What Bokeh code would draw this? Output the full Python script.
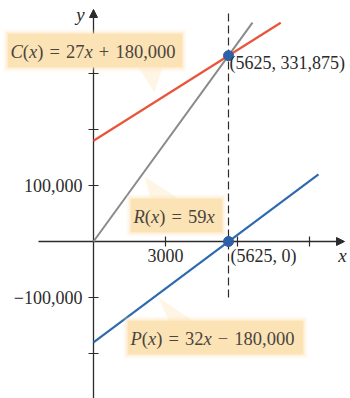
from bokeh.plotting import figure
from bokeh.models import Range1d, Arrow, NormalHead
from bokeh.core.properties import value
from bokeh.embed import file_html
from bokeh.resources import INLINE

# ---- data -------------------------------------------------------------
# C(x) = 27x + 180,000   R(x) = 59x   P(x) = 32x - 180,000
cost_x = [0, 7800]
cost_y = [180000, 390600]
revenue_x = [0, 6625]
revenue_y = [0, 390875]
profit_x = [0, 9375]
profit_y = [-180000, 120000]

# break-even points
break_even_x = [5625, 5625]
break_even_y = [331875, 0]
break_even_labels = ["(5625, 331,875)", "(5625, 0)"]

x_ticks = [3000, 6000, 9000]
x_tick_labels = ["3000", "", ""]
y_ticks = [-200000, -100000, 100000, 200000, 300000]
y_tick_labels = ["", "\u2212100,000", "100,000", "", ""]

# ---- layout helpers ---------------------------------------------------
W, H = 350, 398
OX, OY = 93, 241          # screen position of the origin
SX, SY = 0.024, 0.00056   # pixels per data unit


def X(px):
    return (px - OX) / SX


def Y(py):
    return (OY - py) / SY


INK = "#2b2b2b"
BOX_INK = "#4a4540"
BOX_FILL = "#fce3b5"
SERIF = value("Liberation Serif")

p = figure(width=W, height=H,
           x_range=Range1d(X(0), X(W)), y_range=Range1d(Y(H), Y(0)),
           output_backend="svg", toolbar_location=None,
           x_axis_location=None, y_axis_location=None,
           min_border=0, outline_line_color=None,
           background_fill_color="white", border_fill_color="white")
p.grid.visible = False


def put_text(x, y, text, size=18, style="normal", align="left",
             color=INK, x_offset=0, y_offset=0):
    p.text(x=[x], y=[y], text=[text], text_font=SERIF,
           text_font_size=f"{size}px", text_font_style=style,
           text_align=align, text_baseline="middle", text_color=color,
           x_offset=x_offset, y_offset=y_offset)


# ---- axes (kept beneath the glyphs) -----------------------------------
p.add_layout(Arrow(end=NormalHead(size=8, fill_color=INK, line_color=INK, line_width=1),
                   x_start=X(38), y_start=0, x_end=X(344), y_end=0,
                   line_color=INK, line_width=1.3, level="underlay"))
p.add_layout(Arrow(end=NormalHead(size=8, fill_color=INK, line_color=INK, line_width=1),
                   x_start=0, y_start=Y(H), x_end=0, y_end=Y(9),
                   line_color=INK, line_width=1.3, level="underlay"))

tick_half = 5
p.segment(x0=x_ticks, x1=x_ticks,
          y0=[-tick_half / SY] * len(x_ticks), y1=[tick_half / SY] * len(x_ticks),
          line_color=INK, line_width=1.2)
p.segment(x0=[-tick_half / SX] * len(y_ticks), x1=[tick_half / SX] * len(y_ticks),
          y0=y_ticks, y1=y_ticks, line_color=INK, line_width=1.2)

for t, lab in zip(x_ticks, x_tick_labels):
    if lab:
        put_text(t, 0, lab, align="center", y_offset=14)
for t, lab in zip(y_ticks, y_tick_labels):
    if lab:
        put_text(X(82), t, lab, align="right")

put_text(X(342), 0, "x", size=19, style="italic", align="center", y_offset=14)
put_text(X(80), Y(14), "y", size=19, style="italic", align="center")

# ---- functions --------------------------------------------------------
p.line(revenue_x, revenue_y, line_color="#8a8a8a", line_width=2)
p.line(cost_x, cost_y, line_color="#e8553a", line_width=2.2)
p.line(profit_x, profit_y, line_color="#2f6aae", line_width=2.2)

p.segment(x0=[break_even_x[0]], x1=[break_even_x[0]], y0=[Y(297)], y1=[Y(9)],
          line_color=INK, line_width=1.2, line_dash="8 4")

p.scatter(break_even_x, break_even_y, size=10, color="#2d60a6")
put_text(break_even_x[0], break_even_y[0], break_even_labels[0], x_offset=1, y_offset=7)
put_text(break_even_x[1], break_even_y[1], break_even_labels[1], x_offset=2, y_offset=14)

# ---- equation callouts ------------------------------------------------
EM = {"0": .5, "1": .5, "2": .5, "3": .5, "4": .5, "5": .5, "6": .5, "7": .5,
      "8": .5, "9": .5, ",": .25, "(": .333, ")": .333, "=": .564, "+": .564,
      "\u2212": .564, "C": .667, "R": .611, "P": .611, "x": .444, " ": .25}
GAP = 0.33


def callout(box, tip, base, pieces, size=18.5):
    px0, px1, py0, py1 = box
    # soft halo then solid box
    for pad, alpha in ((4, 0.15), (2, 0.35), (0, 1.0)):
        p.quad(left=[X(px0 - pad)], right=[X(px1 + pad)],
               top=[Y(py0 - pad)], bottom=[Y(py1 + pad)],
               fill_color=BOX_FILL, fill_alpha=alpha, line_color=None)
    (bx0, by0), (bx1, by1) = base
    p.patch([X(bx0), X(tip[0]), X(bx1)], [Y(by0), Y(tip[1]), Y(by1)],
            fill_color=BOX_FILL, fill_alpha=0.35, line_color=None)
    cursor = px0 + 3
    mid = (py0 + py1) / 2 + 1
    for txt, style in pieces:
        w = sum(EM[c] for c in txt) * size
        if txt in ("=", "+", "\u2212"):
            cursor += GAP * size
            put_text(X(cursor), Y(mid), txt, size=size, color=BOX_INK)
            cursor += w + GAP * size
        else:
            put_text(X(cursor), Y(mid), txt, size=size, style=style, color=BOX_INK)
            cursor += w


callout((7, 182, 33, 67), (154, 92), ((138, 67), (162, 67)),
        [("C", "italic"), ("(", "normal"), ("x", "italic"), (")", "normal"),
         ("=", "normal"), ("27", "normal"), ("x", "italic"),
         ("+", "normal"), ("180,000", "normal")])
callout((130, 222, 198, 232), (144, 176), ((150, 198), (178, 198)),
        [("R", "italic"), ("(", "normal"), ("x", "italic"), (")", "normal"),
         ("=", "normal"), ("59", "normal"), ("x", "italic")])
callout((127, 303, 320, 354), (158, 297), ((168, 320), (192, 320)),
        [("P", "italic"), ("(", "normal"), ("x", "italic"), (")", "normal"),
         ("=", "normal"), ("32", "normal"), ("x", "italic"),
         ("\u2212", "normal"), ("180,000", "normal")])

open("out.html", "w").write(file_html(p, INLINE))
